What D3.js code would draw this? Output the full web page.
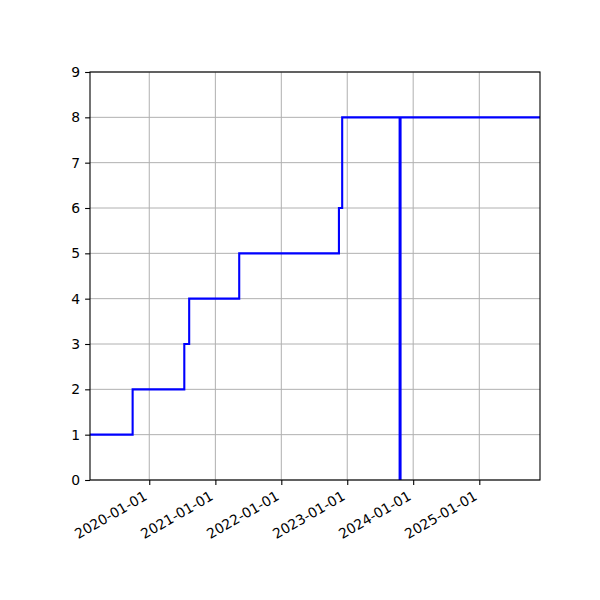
<!DOCTYPE html>
<html>
<head>
<meta charset="utf-8">
<script src="https://cdn.jsdelivr.net/npm/d3@7"></script>
<style>
body { margin: 0; background: #fff; }
svg { display: block; }
text { font-family: "DejaVu Sans", sans-serif; }
</style>
</head>
<body>
<svg id="chart" width="600" height="600"></svg>
<script>
const dates = ["2019-02-07", "2019-10-01", "2020-07-13", "2020-08-09", "2021-05-13",
               "2022-11-16", "2022-12-04", "2023-10-18", "2023-10-23", "2025-12-03"];
const values = [1, 2, 3, 4, 5, 6, 8, 0, 8, 8];
const yTicks = [0, 1, 2, 3, 4, 5, 6, 7, 8, 9];
const xTickLabels = ["2020-01-01", "2021-01-01", "2022-01-01", "2023-01-01", "2024-01-01", "2025-01-01"];

const parse = d3.utcParse("%Y-%m-%d");
const data = dates.map((d, i) => ({ date: parse(d), value: values[i] }));

const margin = { left: 90, right: 60, top: 72, bottom: 120 };
const width = 600, height = 600;
const svg = d3.select("#chart");

const x = d3.scaleUtc()
  .domain([parse(dates[0]), parse(dates[dates.length - 1])])
  .range([margin.left, width - margin.right]);
const y = d3.scaleLinear().domain([0, 9]).range([height - margin.bottom, margin.top]);

const xTicks = xTickLabels.map(parse);

// grid
const grid = svg.append("g");
grid.selectAll("line.gx").data(xTicks).join("line")
  .attr("x1", d => x(d)).attr("x2", d => x(d))
  .attr("y1", margin.top).attr("y2", height - margin.bottom)
  .attr("stroke", "#b0b0b0").attr("stroke-width", 1);
grid.selectAll("line.gy").data(yTicks).join("line")
  .attr("x1", margin.left).attr("x2", width - margin.right)
  .attr("y1", d => y(d)).attr("y2", d => y(d))
  .attr("stroke", "#b0b0b0").attr("stroke-width", 1);

// clip
svg.append("clipPath").attr("id", "clip").append("rect")
  .attr("x", margin.left).attr("y", margin.top)
  .attr("width", width - margin.left - margin.right)
  .attr("height", height - margin.top - margin.bottom);

const line = d3.line().x(d => x(d.date)).y(d => y(d.value)).curve(d3.curveStepAfter);
svg.append("path").datum(data)
  .attr("clip-path", "url(#clip)")
  .attr("d", line)
  .attr("fill", "none").attr("stroke", "#0000ff").attr("stroke-width", 2.1)
  .attr("stroke-linejoin", "miter").attr("stroke-linecap", "butt");

// axes
const xAxis = svg.append("g").attr("transform", `translate(0,${height - margin.bottom})`)
  .call(d3.axisBottom(x).tickValues(xTicks).tickFormat(d3.utcFormat("%Y-%m-%d"))
    .tickSize(4.9).tickSizeOuter(0).tickPadding(4));
xAxis.selectAll("text")
  .attr("font-size", 13.9).attr("fill", "#000")
  .attr("text-anchor", "end")
  .attr("dy", null).attr("y", 0).attr("x", 0)
  .attr("transform", "translate(-1.6,18.9) rotate(-30)");
const yAxis = svg.append("g").attr("transform", `translate(${margin.left},0)`)
  .call(d3.axisLeft(y).tickValues(yTicks).tickFormat(d3.format("d"))
    .tickSize(4.9).tickSizeOuter(0).tickPadding(4.9));
yAxis.selectAll("text").attr("font-size", 13.9).attr("fill", "#000");
[xAxis, yAxis].forEach(a => {
  a.select(".domain").remove();
  a.selectAll(".tick line").attr("stroke", "#000").attr("stroke-width", 1.1);
});

// frame
svg.append("rect").attr("x", margin.left).attr("y", margin.top)
  .attr("width", width - margin.left - margin.right)
  .attr("height", height - margin.top - margin.bottom)
  .attr("fill", "none").attr("stroke", "#000").attr("stroke-width", 1.1);
</script>
</body>
</html>
